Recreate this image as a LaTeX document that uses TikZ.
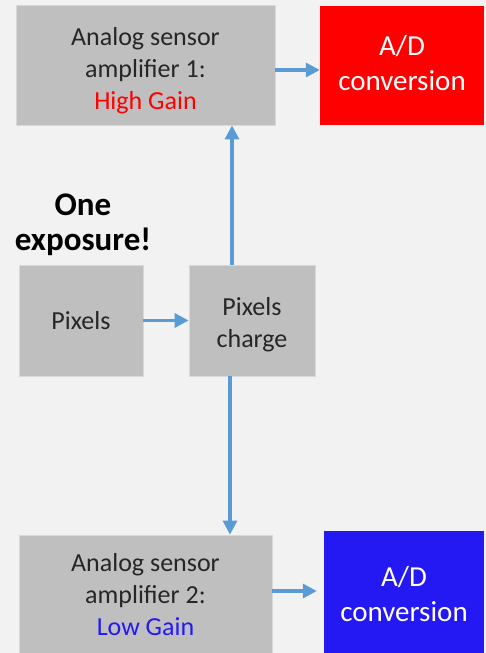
\documentclass[tikz,border=0pt]{standalone}
\usepackage{fontspec}
\setmainfont{Carlito}
\usetikzlibrary{arrows.meta,positioning}
\definecolor{bggray}{HTML}{F2F2F2}
\definecolor{boxgray}{HTML}{BFBFBF}
\definecolor{boxline}{HTML}{D9D9D9}
\definecolor{flowblue}{HTML}{5B9BD5}
\definecolor{hired}{HTML}{FF0000}
\definecolor{lowblue}{RGB}{36,24,243}

\tikzset{
  block/.style={rectangle, fill=boxgray, draw=boxline, line width=0.8pt,
    align=center, text=black!85, inner sep=0pt,
    font=\fontsize{26}{32}\selectfont},
  adbox/.style={rectangle, fill=#1, align=center, text=white, inner sep=0pt,
    font=\fontsize{29}{35}\selectfont},
  flow/.style={draw=flowblue, line width=3.2pt,
    -{Triangle[length=14pt,width=14pt]}},
}

\begin{document}
\begin{tikzpicture}[x=1pt,y=-1pt]
  \fill[bggray] (0,0) rectangle (486,653);
  \useasboundingbox (0,0) rectangle (486,653);

  % High gain path
  \node[block, minimum width=259pt, minimum height=120pt] (amp1) at (145.5,65)
    {\rule{0pt}{29pt}Analog sensor\\amplifier 1:\\\textcolor{hired}{High Gain}};
  \node[adbox=hired, minimum width=164pt, minimum height=119pt] (ad1) at (402,65.5)
    {A/D\\conversion\rule[-5pt]{0pt}{5pt}};

  % Exposure
  \node[font=\bfseries\fontsize{33}{35}\selectfont, align=center] (expo) at (83,224.5)
    {One\\exposure!};
  \node[block, minimum width=124pt, minimum height=111pt] (pix) at (81,320.5) {Pixels};
  \node[block, minimum width=126pt, minimum height=111pt] (chg) at (252,320.5)
    {\rule{0pt}{26pt}Pixels\\charge};

  % Low gain path
  \node[block, minimum width=253pt, minimum height=120pt] (amp2) at (145.5,595)
    {Analog sensor\\amplifier 2:\\\textcolor{lowblue}{Low Gain}};
  \node[adbox=lowblue, minimum width=160pt, minimum height=127pt] (ad2) at (404,594.5)
    {A/D\\conversion};

  % Arrows
  \draw[flow] (pix.east) -- (chg.west);
  \draw[flow] ([xshift=-20pt]chg.north) -- ([xshift=-20pt]chg.north |- amp1.south);
  \draw[flow] ([xshift=-22pt]chg.south) -- ([xshift=-22pt]chg.south |- amp2.north);
  \draw[flow] ([yshift=-5pt]amp1.east) -- ([yshift=-5pt]amp1.east -| ad1.west);
  \draw[flow, shorten >=7pt] ([yshift=4pt]amp2.east) -- ([yshift=4pt]amp2.east -| ad2.west);
\end{tikzpicture}
\end{document}
